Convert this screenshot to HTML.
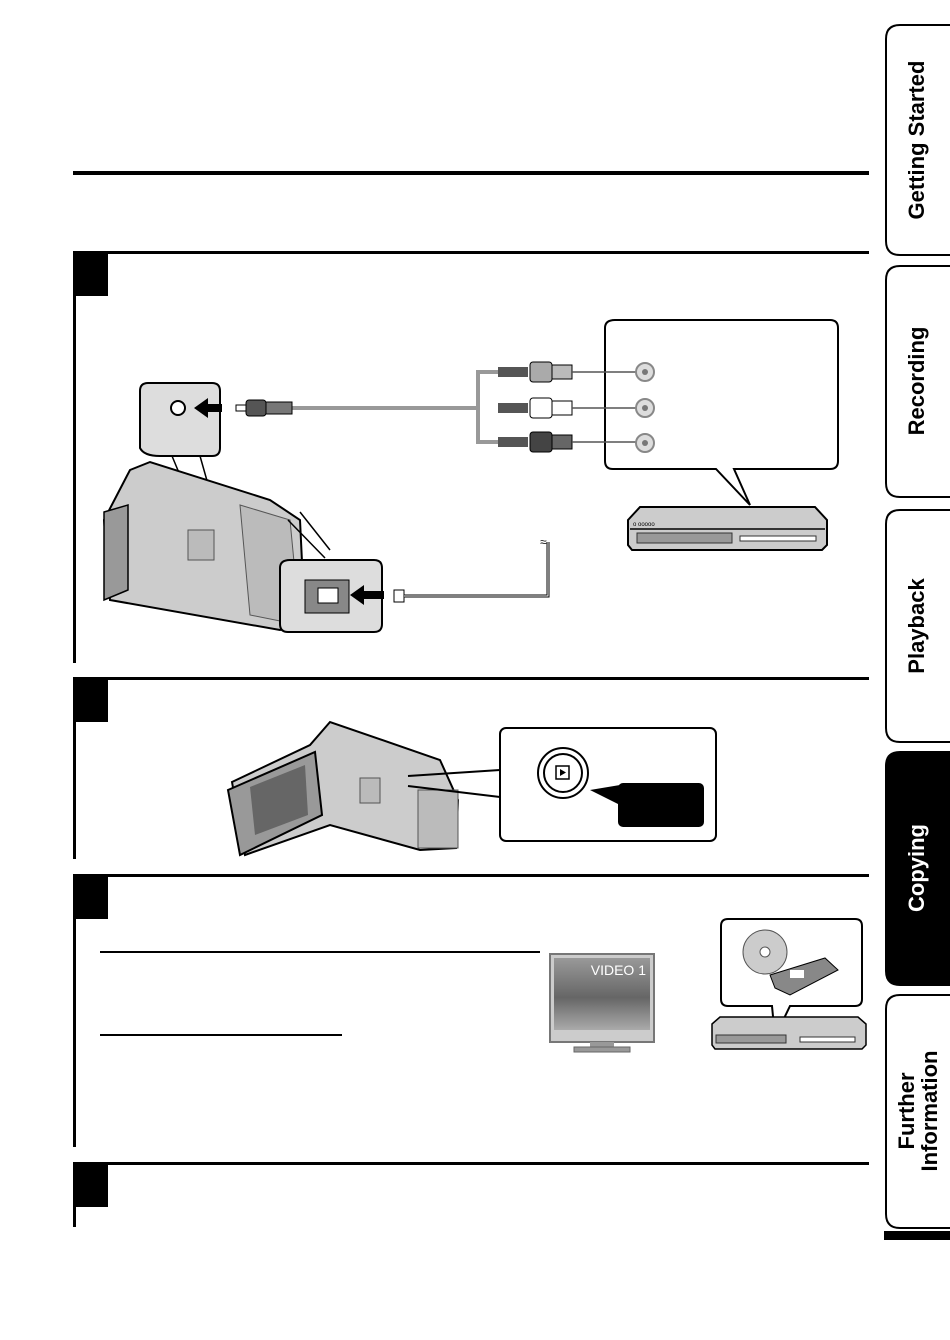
<!DOCTYPE html>
<html><head><style>
body{margin:0;background:#fff}
svg{display:block;font-family:"Liberation Sans",sans-serif}
</style></head><body>
<svg width="950" height="1340" viewBox="0 0 950 1340" xmlns="http://www.w3.org/2000/svg">
<!-- header rule -->
<rect x="73" y="171" width="796" height="4" fill="#000"/>
<!-- step 1 -->
<rect x="73" y="251" width="796" height="3" fill="#000"/>
<rect x="75" y="254" width="33" height="42" fill="#000"/>
<rect x="73" y="251" width="3" height="412" fill="#000"/>
<!-- step 2 -->
<rect x="73" y="677" width="796" height="3" fill="#000"/>
<rect x="75" y="680" width="33" height="42" fill="#000"/>
<rect x="73" y="677" width="3" height="182" fill="#000"/>
<!-- step 3 -->
<rect x="73" y="874" width="796" height="3" fill="#000"/>
<rect x="75" y="877" width="33" height="42" fill="#000"/>
<rect x="73" y="874" width="3" height="273" fill="#000"/>
<rect x="100" y="951" width="440" height="2" fill="#000"/>
<rect x="100" y="1034" width="242" height="2" fill="#000"/>
<!-- step 4 -->
<rect x="73" y="1162" width="796" height="3" fill="#000"/>
<rect x="75" y="1165" width="33" height="42" fill="#000"/>
<rect x="73" y="1162" width="3" height="65" fill="#000"/>

<!-- tabs -->
<g stroke="#000" stroke-width="2">
<path d="M950 25 H900 Q886 25 886 39 V241 Q886 255 900 255 H950" fill="#fff"/>
<path d="M950 266 H900 Q886 266 886 280 V483 Q886 497 900 497 H950" fill="#fff"/>
<path d="M950 510 H900 Q886 510 886 524 V728 Q886 742 900 742 H950" fill="#fff"/>
<path d="M950 752 H900 Q886 752 886 766 V971 Q886 985 900 985 H950" fill="#000"/>
<path d="M950 995 H900 Q886 995 886 1009 V1214 Q886 1228 900 1228 H950" fill="#fff"/>
</g>
<rect x="884" y="1231" width="66" height="9" fill="#000"/>
<g font-weight="bold" font-size="22">
<text transform="translate(924 140) rotate(-90)" text-anchor="middle">Getting Started</text>
<text transform="translate(924 381) rotate(-90)" text-anchor="middle">Recording</text>
<text transform="translate(924 626) rotate(-90)" text-anchor="middle">Playback</text>
<text transform="translate(924 868) rotate(-90)" text-anchor="middle" fill="#fff">Copying</text>
<text transform="translate(914 1111) rotate(-90)" text-anchor="middle">Further</text>
<text transform="translate(937 1111) rotate(-90)" text-anchor="middle">Information</text>
</g>

<!-- step1 diagram -->
<!-- callout box right -->
<path d="M615 320 H830 Q838 320 838 328 V461 Q838 469 830 469 H734 L750 505 L716 469 H613 Q605 469 605 461 V328 Q605 320 615 320Z" fill="#fff" stroke="#000" stroke-width="2"/>
<!-- RCA cables -->
<path d="M290 408 H478 M498 372 H478 V442 H498" stroke="#999" stroke-width="4" fill="none"/>
<g>
<rect x="498" y="367" width="30" height="10" fill="#555"/>
<rect x="530" y="362" width="22" height="20" rx="3" fill="#aaa" stroke="#000"/>
<rect x="552" y="365" width="20" height="14" fill="#bbb" stroke="#000"/>
<rect x="498" y="403" width="30" height="10" fill="#555"/>
<rect x="530" y="398" width="22" height="20" rx="3" fill="#fff" stroke="#000"/>
<rect x="552" y="401" width="20" height="14" fill="#fff" stroke="#000"/>
<rect x="498" y="437" width="30" height="10" fill="#555"/>
<rect x="530" y="432" width="22" height="20" rx="3" fill="#444" stroke="#000"/>
<rect x="552" y="435" width="20" height="14" fill="#666" stroke="#000"/>
<path d="M572 372 H640 M572 408 H640 M572 442 H640" stroke="#555" stroke-width="1.5"/>
<g fill="#ddd" stroke="#888" stroke-width="2">
<circle cx="645" cy="372" r="9"/><circle cx="645" cy="408" r="9"/><circle cx="645" cy="443" r="9"/>
</g>
<g fill="#777"><circle cx="645" cy="372" r="3"/><circle cx="645" cy="408" r="3"/><circle cx="645" cy="443" r="3"/></g>
</g>
<!-- left callout -->
<path d="M148 383 H212 Q220 383 220 391 V448 Q220 456 212 456 H160 Q144 456 140 448 V391 Q140 383 148 383Z" fill="#ddd" stroke="#000" stroke-width="2"/>
<circle cx="178" cy="408" r="7" fill="#fff" stroke="#000" stroke-width="2"/>
<path d="M194 408 L208 398 V404 H222 V412 H208 V418Z" fill="#000"/>
<rect x="236" y="405" width="10" height="6" fill="#fff" stroke="#000"/>
<rect x="246" y="400" width="20" height="16" rx="3" fill="#555" stroke="#000"/>
<rect x="266" y="402" width="26" height="12" fill="#777" stroke="#000"/>
<path d="M172 456 L232 600 M200 456 L238 590" stroke="#000" stroke-width="1.5"/>
<!-- camcorder 1 -->
<path d="M104 520 L130 470 L150 462 L270 500 L300 520 L305 625 L280 630 L110 600Z" fill="#ccc" stroke="#000" stroke-width="2"/>
<path d="M104 512 L128 505 L128 590 L104 600Z" fill="#999" stroke="#000" stroke-width="1.5"/>
<path d="M240 505 L290 520 L300 625 L250 615Z" fill="#bbb" stroke="#555"/>
<rect x="188" y="530" width="26" height="30" fill="#bbb" stroke="#555"/>
<!-- usb callout -->
<path d="M290 560 H374 Q382 560 382 568 V624 Q382 632 374 632 H288 Q280 632 280 624 V568 Q280 560 290 560Z" fill="#ddd" stroke="#000" stroke-width="2"/>
<path d="M288 520 L325 558 M300 512 L330 550" stroke="#000" stroke-width="1.5"/>
<rect x="305" y="580" width="44" height="33" fill="#888" stroke="#000"/>
<rect x="318" y="588" width="20" height="15" fill="#fff" stroke="#000"/>
<path d="M350 595 L364 585 V591 H384 V599 H364 V605Z" fill="#000"/>
<rect x="394" y="590" width="10" height="12" fill="#fff" stroke="#000"/>
<path d="M404 596 H548 V542" stroke="#000" stroke-width="3" fill="none"/>
<path d="M404 596 H548 V542" stroke="#fff" stroke-width="1" fill="none"/>
<text x="540" y="546" font-size="12">≈</text>
<!-- recorder -->
<path d="M628 520 L640 507 H815 L827 520 V545 L822 550 H632 L628 545Z" fill="#ccc" stroke="#000" stroke-width="2"/>
<rect x="630" y="528" width="195" height="2" fill="#333"/>
<rect x="637" y="533" width="95" height="10" fill="#999" stroke="#333"/>
<rect x="740" y="536" width="76" height="5" fill="#fff" stroke="#333"/>
<text x="633" y="526" font-size="6">o ooooo</text>

<!-- step2 diagram -->
<path d="M232 782 L310 745 L330 722 L440 760 L458 800 L456 848 L420 850 L330 825 L245 855Z" fill="#ccc" stroke="#000" stroke-width="2"/>
<path d="M228 790 L315 752 L322 815 L240 855Z" fill="#999" stroke="#000" stroke-width="2"/>
<path d="M250 787 L305 765 L308 815 L255 835Z" fill="#666"/>
<rect x="418" y="790" width="40" height="58" fill="#bbb" stroke="#555"/>
<rect x="360" y="778" width="20" height="25" fill="#bbb" stroke="#555"/>
<rect x="500" y="728" width="216" height="113" rx="6" fill="#fff" stroke="#000" stroke-width="2"/>
<path d="M408 776 L500 770 M408 786 L500 797" stroke="#000" stroke-width="2"/>
<circle cx="563" cy="773" r="25" fill="#fff" stroke="#000" stroke-width="2"/>
<circle cx="563" cy="773" r="19" fill="#fff" stroke="#000" stroke-width="2"/>
<rect x="556" y="766" width="13" height="13" fill="#fff" stroke="#000" stroke-width="1.5"/>
<path d="M560 769 L566 772.5 L560 776Z" fill="#000"/>
<path d="M590 790 L620 785 V805Z" fill="#000"/>
<rect x="618" y="783" width="86" height="44" rx="5" fill="#000"/>

<!-- step3 tv -->
<rect x="550" y="954" width="104" height="88" fill="#ccc" stroke="#777" stroke-width="2"/>
<defs><linearGradient id="g" x1="0" y1="0" x2="0" y2="1"><stop offset="0" stop-color="#999"/><stop offset=".55" stop-color="#666"/><stop offset="1" stop-color="#aaa"/></linearGradient></defs>
<rect x="554" y="958" width="96" height="72" fill="url(#g)"/>
<text x="646" y="975" font-size="14" fill="#fff" text-anchor="end">VIDEO 1</text>
<rect x="590" y="1042" width="24" height="5" fill="#999"/>
<rect x="574" y="1047" width="56" height="5" fill="#999" stroke="#666"/>
<!-- disc callout -->
<path d="M728 919 H855 Q862 919 862 926 V999 Q862 1006 855 1006 H790 L775 1037 L772 1006 H728 Q721 1006 721 999 V926 Q721 919 728 919Z" fill="#fff" stroke="#000" stroke-width="2"/>
<circle cx="765" cy="952" r="22" fill="#ccc" stroke="#555"/>
<circle cx="765" cy="952" r="5" fill="#fff" stroke="#555"/>
<path d="M770 975 L825 958 L838 970 L790 995 L775 988Z" fill="#888" stroke="#000"/>
<rect x="790" y="970" width="14" height="8" fill="#fff"/>
<path d="M712 1024 L720 1017 H858 L866 1024 V1045 L862 1049 H715 L712 1045Z" fill="#ccc" stroke="#000" stroke-width="1.5"/>
<rect x="716" y="1035" width="70" height="8" fill="#999" stroke="#333"/>
<rect x="800" y="1037" width="55" height="5" fill="#fff" stroke="#333"/>
</svg>
</body></html>
